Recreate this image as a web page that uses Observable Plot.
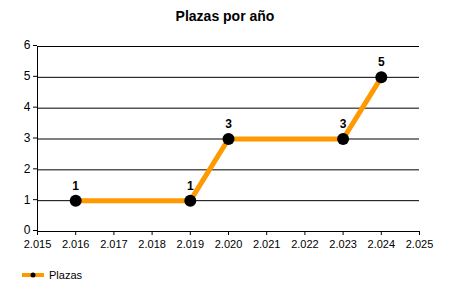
<!DOCTYPE html>
<html>
<head>
<meta charset="utf-8">
<script src="https://cdn.jsdelivr.net/npm/d3@7"></script>
<script src="https://cdn.jsdelivr.net/npm/@observablehq/plot@0.6"></script>
<style>
  body { margin: 0; background: #fff; font-family: "Liberation Sans", Arial, sans-serif; }
  #wrap { position: relative; width: 450px; height: 300px; }
  #title { position: absolute; left: 0; width: 450px; top: 8px; text-align: center; font-weight: bold; font-size: 14px; box-sizing: border-box; }
  #legend { position: absolute; left: 22px; top: 269px; font-size: 11px; display: flex; align-items: center; }
  #legend svg { margin-right: 5px; }
</style>
</head>
<body>
<div id="wrap">
  <div id="chart"></div>
  <div id="title">Plazas por año</div>
  <div id="legend"><svg width="22" height="10"><line x1="0" y1="5" x2="22" y2="5" stroke="#FF9900" stroke-width="4"/><circle cx="11" cy="5" r="2.5" fill="#000"/></svg><span>Plazas</span></div>
</div>
<script>
const seriesName = "Plazas";
const years = [2016, 2019, 2020, 2023, 2024];
const values = [1, 1, 3, 3, 5];
const xTicks = [2015, 2016, 2017, 2018, 2019, 2020, 2021, 2022, 2023, 2024, 2025];
const yTicks = [0, 1, 2, 3, 4, 5, 6];

const data = years.map((y, i) => ({year: y, value: values[i]}));
const fmtYear = d => String(d).replace(/(\d)(\d{3})$/, "$1.$2");

const chart = Plot.plot({
  width: 450,
  height: 300,
  marginTop: 46,
  marginBottom: 69,
  marginLeft: 37,
  marginRight: 31,
  style: {fontFamily: "Liberation Sans, Arial, sans-serif", fontSize: "12px", color: "#000", background: "transparent"},
  x: {domain: [2015, 2025], ticks: xTicks, tickFormat: fmtYear, label: null},
  y: {domain: [0, 6], ticks: yTicks, tickFormat: d => String(d), label: null},
  marks: [
    Plot.ruleY(yTicks.filter(d => d > 0), {stroke: "#000", strokeOpacity: 1, strokeWidth: 1}),
    Plot.axisY({ticks: yTicks, tickFormat: d => String(d), tickSize: 4, tickPadding: 3, stroke: "#000", fontSize: 12, dy: -1, label: null}),
    Plot.axisX({ticks: xTicks, tickFormat: fmtYear, tickSize: 4, tickPadding: 5, stroke: "#000", fontSize: 11, label: null}),
    Plot.ruleY([0], {stroke: "#000"}),
    Plot.ruleX([2015], {stroke: "#000"}),
    Plot.line(data, {x: "year", y: "value", stroke: "#FF9900", strokeWidth: 5}),
    Plot.dot(data, {x: "year", y: "value", r: 6, fill: "#000", stroke: null}),
    Plot.text(data, {x: "year", y: "value", text: d => String(d.value), dy: -15, fontWeight: "bold", fontSize: 12, fill: "#000"})
  ]
});
document.getElementById("chart").appendChild(chart);
</script>
</body>
</html>
